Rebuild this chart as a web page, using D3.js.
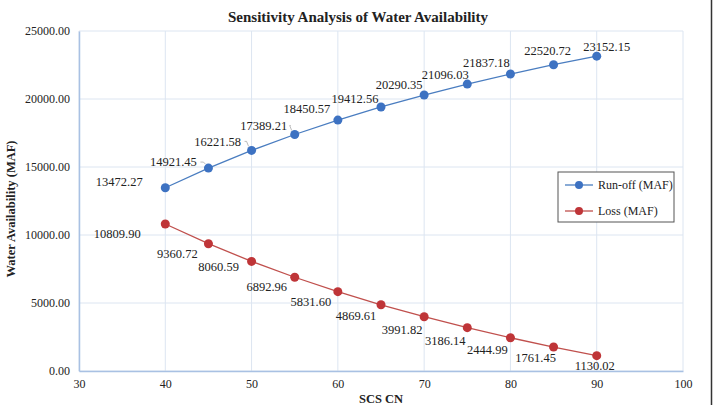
<!DOCTYPE html>
<html>
<head>
<meta charset="utf-8">
<script src="https://cdn.jsdelivr.net/npm/d3@7"></script>
<style>
  body { margin: 0; background: #fff; }
  text { font-family: "Liberation Serif", "Times New Roman", serif; fill: #222; }
</style>
</head>
<body>
<div id="chart"></div>
<script>
// data
var scsCN = [40, 45, 50, 55, 60, 65, 70, 75, 80, 85, 90];
var runoff = [13472.27, 14921.45, 16221.58, 17389.21, 18450.57, 19412.56, 20290.35, 21096.03, 21837.18, 22520.72, 23152.15];
var loss = [10809.90, 9360.72, 8060.59, 6892.96, 5831.60, 4869.61, 3991.82, 3186.14, 2444.99, 1761.45, 1130.02];
var xTicks = [30, 40, 50, 60, 70, 80, 90, 100];
var yTicks = [0, 5000, 10000, 15000, 20000, 25000];
var seriesNames = ["Run-off (MAF)", "Loss (MAF)"];

// label placement (dx, dy from the point), like the excel labels
var runLabelPos = [[-46, -6], [-35, -6], [-34, -9], [-31, -9], [-31, -11], [-26, -8], [-25, -10], [-22, -9], [-24, -11], [-6, -14], [10, -10]];
var lossLabelPos = [[-48, 10], [-31, 10], [-33, 5], [-28, 9], [-27, 10], [-25, 11], [-22, 13], [-22, 13], [-23, 12], [-18, 11], [-2, 10]];

var W = 717, H = 405;
var margin = { top: 31, right: 34, bottom: 34, left: 79 },
    width = W - margin.left - margin.right,
    height = H - margin.top - margin.bottom;

var svg = d3.select("#chart").append("svg")
    .attr("width", W)
    .attr("height", H);

// right border of the chart box
svg.append("line")
    .attr("x1", 711.5).attr("x2", 711.5)
    .attr("y1", 0).attr("y2", H)
    .attr("stroke", "#333").attr("stroke-width", 1.5);

var g = svg.append("g")
    .attr("transform", "translate(" + margin.left + "," + margin.top + ")");

var xScale = d3.scaleLinear().domain([30, 100]).range([0, width]);
var yScale = d3.scaleLinear().domain([0, 25000]).range([height, 0]);

// gridlines
g.selectAll(".vgrid").data(xTicks).enter().append("line")
    .attr("x1", function (d) { return xScale(d); })
    .attr("x2", function (d) { return xScale(d); })
    .attr("y1", 0).attr("y2", height)
    .attr("stroke", "#dce5f1").attr("stroke-width", 1);
g.selectAll(".hgrid").data(yTicks).enter().append("line")
    .attr("x1", 0).attr("x2", width)
    .attr("y1", function (d) { return yScale(d); })
    .attr("y2", function (d) { return yScale(d); })
    .attr("stroke", "#dce5f1").attr("stroke-width", 1);

// axes
var xAxis = g.append("g")
    .attr("transform", "translate(0," + height + ")")
    .call(d3.axisBottom(xScale).tickValues(xTicks).tickSize(0).tickPadding(8).tickFormat(d3.format("d")));
var yAxis = g.append("g")
    .call(d3.axisLeft(yScale).tickValues(yTicks).tickSize(0).tickPadding(9).tickFormat(d3.format(".2f")));
[xAxis, yAxis].forEach(function (a) {
    a.select(".domain").attr("stroke", "#a9c1e3").attr("stroke-width", 1.5);
    a.selectAll("text").style("font-family", "Liberation Serif, serif").style("font-size", "12px").attr("fill", "#222");
});

// titles
svg.append("text")
    .attr("x", W / 2 - 0.5).attr("y", 22)
    .attr("text-anchor", "middle")
    .style("font-size", "15px").style("font-weight", "bold")
    .text("Sensitivity Analysis of Water Availability");
svg.append("text")
    .attr("x", margin.left + width / 2).attr("y", 403)
    .attr("text-anchor", "middle")
    .style("font-size", "12.5px").style("font-weight", "bold")
    .text("SCS CN");
svg.append("text")
    .attr("transform", "translate(15," + (margin.top + height / 2 + 8) + ") rotate(-90)")
    .attr("text-anchor", "middle")
    .style("font-size", "12.5px").style("font-weight", "bold")
    .text("Water Availability (MAF)");

var series = [
    { name: seriesNames[0], values: runoff, line: "#4a7dc0", dot: "#3d72c2", pos: runLabelPos },
    { name: seriesNames[1], values: loss, line: "#c0504d", dot: "#bf3538", pos: lossLabelPos }
];

var line = d3.line()
    .x(function (d, i) { return xScale(scsCN[i]); })
    .y(function (d) { return yScale(d); });

series.forEach(function (s) {
    g.append("path")
        .datum(s.values)
        .attr("fill", "none")
        .attr("stroke", s.line)
        .attr("stroke-width", 1.3)
        .attr("d", line);

    g.selectAll(null).data(s.values).enter().append("circle")
        .attr("cx", function (d, i) { return xScale(scsCN[i]); })
        .attr("cy", function (d) { return yScale(d); })
        .attr("r", 4.5)
        .attr("fill", s.dot);

    g.selectAll(null).data(s.values).enter().append("text")
        .attr("x", function (d, i) { return xScale(scsCN[i]) + s.pos[i][0]; })
        .attr("y", function (d, i) { return yScale(d) + s.pos[i][1]; })
        .attr("dy", "0.35em")
        .attr("text-anchor", "middle")
        .style("font-size", "12.5px")
        .text(function (d) { return d3.format(".2f")(d); });
});

// small leader lines next to some run-off labels
g.selectAll(".leader").data([1, 2, 3]).enter().append("path")
    .attr("fill", "none")
    .attr("stroke", "#aaa")
    .attr("stroke-width", 0.8)
    .attr("d", function (i) {
        var px = xScale(scsCN[i]), py = yScale(runoff[i]);
        var lx = px + runLabelPos[i][0] + 27, ly = py + runLabelPos[i][1];
        return "M" + lx + "," + ly + " L" + (px - 5) + "," + ly + " L" + (px - 3) + "," + (py - 4);
    });

// legend
var legend = svg.append("g").attr("transform", "translate(558,172)");
legend.append("rect")
    .attr("width", 116).attr("height", 50)
    .attr("fill", "#fff").attr("stroke", "#555").attr("stroke-width", 1);
series.forEach(function (s, i) {
    var row = legend.append("g").attr("transform", "translate(0," + (13 + i * 26) + ")");
    row.append("line").attr("x1", 7).attr("x2", 35).attr("y1", 0).attr("y2", 0)
        .attr("stroke", s.line).attr("stroke-width", 1.3);
    row.append("circle").attr("cx", 21).attr("cy", 0).attr("r", 4).attr("fill", s.dot);
    row.append("text").attr("x", 40).attr("y", 0).attr("dy", "0.35em")
        .style("font-size", "12px").text(s.name);
});
</script>
</body>
</html>
